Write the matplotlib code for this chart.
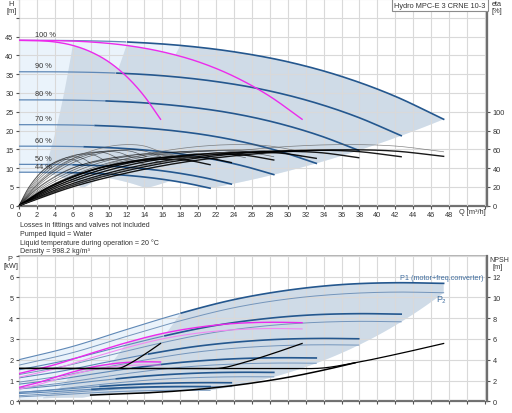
import numpy as np
import matplotlib
matplotlib.use("Agg")
import matplotlib.pyplot as plt

plt.rcParams['font.family'] = ['Liberation Sans', 'DejaVu Sans']

# ---------------- data ----------------
# single CRNE 10-3 pump at 100 % speed
q_base = [0, 2, 4, 6, 8, 10, 12, 14, 15.8]
h_base = [44.0, 43.94, 43.57, 42.65, 40.95, 38.3, 34.4, 29.1, 23.0]
eta_base = [0, 22, 38, 50, 58, 63, 65, 63.5, 57.4]
p1_base = [0.667, 0.88, 1.15, 1.41, 1.63, 1.78, 1.87, 1.90, 1.89]
p2_base = [0.56, 0.76, 1.02, 1.27, 1.48, 1.62, 1.70, 1.73, 1.72]
npsh_q = [0, 4, 8, 10, 11.3, 12.5, 14, 15.8]
npsh_base = [3.16, 3.16, 3.16, 3.16, 3.2, 3.7, 4.5, 5.56]
# extra rising NPSH curve seen in the lower chart (3 pumps, Q in m3/h)
npsh_x_q = [8, 14, 20, 26, 30, 34, 37.5]
npsh_x = [0.6, 0.8, 1.15, 1.75, 2.3, 3.0, 3.7]

speeds = [1.0, 0.9, 0.8, 0.7, 0.6, 0.5, 0.45]
speed_labels = ['100 %', '90 %', '80 %', '70 %', '60 %', '50 %', '44 %']
eta_factor = [0.915, 0.908, 0.89, 0.878, 0.847, 0.80, 0.76]
pumps = [1, 2, 3]
q_min_1 = 6.0
p1_loss = 0.07
p2_loss = 0.02

x_ticks = list(range(0, 49, 2))
h_ticks = [0, 5, 10, 15, 20, 25, 30, 35, 40, 45]
eta_ticks = [0, 20, 40, 60, 80, 100]
p_ticks = [0, 1, 2, 3, 4, 5, 6]
npsh_ticks = [0, 2, 4, 6, 8, 10, 12]
notes = ["Losses in fittings and valves not included",
         "Pumped liquid = Water",
         "Liquid temperature during operation = 20 \u00b0C",
         "Density = 998.2 kg/m\u00b3"]
title = "Hydro MPC-E 3 CRNE 10-3"

# ---------------- helpers ----------------


def smooth(xs, ys, xn):
    xs = np.asarray(xs, float)
    ys = np.asarray(ys, float)
    xn = np.clip(np.asarray(xn, float), xs[0], xs[-1])
    m = np.gradient(ys, xs)
    i = np.clip(np.searchsorted(xs, xn, side='right') - 1, 0, len(xs) - 2)
    h = xs[i + 1] - xs[i]
    t = (xn - xs[i]) / h
    h00 = 2 * t**3 - 3 * t**2 + 1
    h10 = t**3 - 2 * t**2 + t
    h01 = -2 * t**3 + 3 * t**2
    h11 = t**3 - t**2
    return h00 * ys[i] + h10 * h * m[i] + h01 * ys[i + 1] + h11 * h * m[i + 1]


QEND = q_base[-1]


def head(k, n, Q):
    return n**2 * smooth(q_base, h_base, Q / (k * n))


def p1(k, n, Q):
    return k * (n**3 * (smooth(q_base, p1_base, Q / (k * n)) - p1_loss) + p1_loss)


def p2(k, n, Q):
    return k * (n**3 * smooth(q_base, p2_base, Q / (k * n)) + p2_loss)


nmin, nmax = speeds[-1], speeds[0]
ns = np.linspace(nmax, nmin, 40)

# ---------------- figure ----------------
W, H = 512, 414
fig = plt.figure(figsize=(W / 100, H / 100), dpi=100)
XL = 19 / W
XW = 468 / W
ax1 = fig.add_axes([XL, 1 - 206.7 / H, XW, 206.7 / H])
ax2 = fig.add_axes([XL, 1 - 402.3 / H, XW, (402.3 - 256.7) / H])
XMAX = 52.24

grey_fill = '#cfdbe7'
light_fill = '#eaf3fb'
dark_blue = '#24578e'
mid_blue = '#5f88b6'
p2_blue = '#7495bb'
magenta = '#ec2aec'
magenta_l = '#f28af2'
grid_c = '#d9d9d9'
txt_c = '#333333'
FS = 5.3

for ax in (ax1, ax2):
    ax.set_xlim(0, XMAX)
    ax.set_xticks(x_ticks + [50, 52])
    ax.grid(True, color=grid_c, lw=0.8, zorder=1.2)
    ax.set_axisbelow(False)
    ax.tick_params(labelsize=FS, colors='#555555', length=2.5, width=0.8, pad=1.5,
                   labelcolor=txt_c)
    for s in ax.spines.values():
        s.set_color('#8c8c8c')

# ---- H chart regions ----
for k in pumps:
    qt = np.linspace(0, QEND * k, 120)
    qe = QEND * k * ns
    he = np.array([head(k, n, QEND * k * n) for n in ns])
    qb_ = np.linspace(QEND * k * nmin, 0, 120)
    hb = head(k, nmin, qb_)
    xs = np.concatenate([qt, qe, qb_])
    ys = np.concatenate([head(k, nmax, qt), he, hb])
    ax1.fill(xs, ys, color=light_fill, lw=0, zorder=0.5)
for k in pumps:
    qmin = q_min_1 * k
    qt = np.linspace(qmin, QEND * k, 120)
    qe = QEND * k * ns
    he = np.array([head(k, n, QEND * k * n) for n in ns])
    qb_ = np.linspace(QEND * k * nmin, qmin * nmin, 120)
    hb = head(k, nmin, qb_)
    qm = qmin * ns[::-1]
    hm = np.array([head(k, n, qmin * n) for n in ns[::-1]])
    xs = np.concatenate([qt, qe, qb_, qm])
    ys = np.concatenate([head(k, nmax, qt), he, hb, hm])
    ax1.fill(xs, ys, color=grey_fill, lw=0, zorder=0.6)

# ---- eta curves (right axis) ----
ax1b = ax1.twinx()
ax1b.set_ylim(0, 220)
for k in pumps:
    for n, f in zip(speeds, eta_factor):
        Q = np.linspace(0, QEND * k * n, 150)
        e = f * smooth(q_base, eta_base, Q / (k * n))
        if k == 3:
            ax1b.plot(Q, e, color='black', lw=1.0, alpha=0.9, zorder=3)
        else:
            ax1b.plot(Q, e, color='black', lw=0.5, alpha=0.55, zorder=3)
    Q = np.linspace(0, QEND * k, 150)
    ax1b.plot(Q, smooth(q_base, eta_base, Q / k), color='#555555', lw=0.5,
              alpha=0.7, zorder=3)

# ---- H curves ----
for n, lab in zip(speeds, speed_labels):
    k = 3
    Q = np.linspace(0, QEND * k * n, 200)
    hq = head(k, n, Q)
    split = 12 * n
    ax1.plot(Q[Q <= split], hq[Q <= split], color=mid_blue, lw=0.9, zorder=4)
    ax1.plot(Q[Q >= split], hq[Q >= split], color=dark_blue, lw=1.2, zorder=4)
    ax1.text(1.75, head(k, n, 0) + 1.6, lab, fontsize=FS, color=txt_c,
             va='center', ha='left', zorder=6)
for k in (1, 2):
    Q = np.linspace(0, QEND * k, 200)
    ax1.plot(Q, head(k, 1.0, Q), color=magenta, lw=1.0, zorder=5)

ax1.set_ylim(0, 55)
ax1.set_yticks(h_ticks + [50, 55])
ax1.set_yticklabels([str(v) for v in h_ticks] + ['', ''])
ax1.set_xticklabels([str(v) for v in x_ticks] + ['', ''])
ax1.spines['top'].set_visible(False)
ax1.spines['bottom'].set_linewidth(1.6)
ax1.spines['bottom'].set_color('#6f6f6f')
ax1b.spines['top'].set_visible(False)
ax1b.spines['right'].set_linewidth(1.6)
ax1b.spines['right'].set_color('#6f6f6f')
ax1b.spines['left'].set_visible(False)
ax1b.spines['bottom'].set_visible(False)
ax1b.set_yticks(eta_ticks)
ax1b.tick_params(labelsize=FS, colors='#555555', length=2.5, width=0.8, pad=1.5,
                 labelcolor=txt_c)

# ---- P chart regions ----
for k in pumps:
    qt = np.linspace(0, QEND * k, 120)
    qe = QEND * k * ns
    pe = np.array([p2(k, n, QEND * k * n) for n in ns])
    qb_ = np.linspace(QEND * k * nmin, 0, 120)
    xs = np.concatenate([qt, [QEND * k], qe, qb_])
    ys = np.concatenate([p1(k, nmax, qt), [p2(k, nmax, QEND * k)], pe,
                         p2(k, nmin, qb_)])
    ax2.fill(xs, ys, color=light_fill, lw=0, zorder=0.5)
for k in pumps:
    qmin = q_min_1 * k
    qt = np.linspace(qmin, QEND * k, 120)
    qe = QEND * k * ns
    pe = np.array([p2(k, n, QEND * k * n) for n in ns])
    qb_ = np.linspace(QEND * k * nmin, qmin * nmin, 120)
    qm = qmin * ns[::-1]
    pm = np.array([p1(k, n, qmin * n) for n in ns[::-1]])
    xs = np.concatenate([qt, [QEND * k], qe, qb_, qm])
    ys = np.concatenate([p1(k, nmax, qt), [p2(k, nmax, QEND * k)], pe,
                         p2(k, nmin, qb_), pm])
    ax2.fill(xs, ys, color=grey_fill, lw=0, zorder=0.6)

for n in speeds:
    k = 3
    Q = np.linspace(0, QEND * k * n, 200)
    split = 18 * n
    a = p1(k, n, Q)
    ax2.plot(Q[Q <= split], a[Q <= split], color=mid_blue, lw=0.8, zorder=4)
    ax2.plot(Q[Q >= split], a[Q >= split], color=dark_blue, lw=1.2, zorder=4)
    ax2.plot(Q, p2(k, n, Q), color=p2_blue, lw=0.7, zorder=4)
for k in (1, 2):
    Q = np.linspace(0, QEND * k, 200)
    ax2.plot(Q, p1(k, 1.0, Q), color=magenta, lw=1.0, zorder=5)
    ax2.plot(Q, p2(k, 1.0, Q), color=magenta_l, lw=0.8, zorder=5)

ax2.set_ylim(0, 7)
ax2.set_yticks(p_ticks + [7])
ax2.set_yticklabels([str(v) for v in p_ticks] + [''])
ax2.set_xticklabels([])
ax2.spines['bottom'].set_linewidth(1.6)
ax2.spines['bottom'].set_color('#6f6f6f')
ax2.spines['top'].set_linewidth(1.2)
ax2.spines['top'].set_color('#a8a8a8')

ax2b = ax2.twinx()
ax2b.set_ylim(0, 14)
ax2b.set_yticks(npsh_ticks)
ax2b.tick_params(labelsize=FS, colors='#555555', length=2.5, width=0.8, pad=1.5,
                 labelcolor=txt_c)
ax2b.spines['right'].set_linewidth(1.6)
ax2b.spines['right'].set_color('#6f6f6f')
for s in ('left', 'top', 'bottom'):
    ax2b.spines[s].set_visible(False)
for k in pumps:
    Q = np.linspace(0, QEND * k, 200)
    ax2b.plot(Q, smooth(npsh_q, npsh_base, Q / k), color='black', lw=0.9,
              zorder=5)
Qx = np.linspace(npsh_x_q[0], npsh_x_q[-1], 150)
ax2b.plot(Qx, smooth(npsh_x_q, npsh_x, Qx), color='black', lw=1.1, zorder=5)

ax2.text(51.8, 5.95, "P1 (motor+freq.converter)", fontsize=5.2, color='#3f6d9f',
         ha='right', va='center', zorder=7)
ax2.text(47.1, 4.95, "P\u2082", fontsize=6.5, color='#3f6d9f', ha='center',
         va='center', zorder=7)

# ---- free texts ----
def ftxt(x, y, s, **kw):
    fig.text(x / W, 1 - y / H, s, fontsize=kw.pop('fs', FS), color=txt_c,
             ha=kw.pop('ha', 'center'), va='center', **kw)

ftxt(11.5, 4.5, "H")
ftxt(11.5, 11.5, "[m]")
ftxt(497, 4.5, "eta")
ftxt(497, 11.5, "[%]")
ftxt(472, 212, "Q [m\u00b3/h]")
ftxt(10, 259.5, "P")
ftxt(11, 266.5, "[kW]")
ftxt(499, 260, "NPSH", fs=5.0)
ftxt(498, 267.5, "[m]")
for i, s in enumerate(notes):
    ftxt(20, 226 + i * 8.5, s, ha='left', fs=5.1)
fig.text(440 / W, 1 - 6 / H, title, fontsize=5.3, color=txt_c, ha='center',
         va='center', bbox=dict(boxstyle='square,pad=0.35', fc='white',
                                ec='#8c8c8c', lw=0.8))

fig.savefig('out.png', dpi=100)
